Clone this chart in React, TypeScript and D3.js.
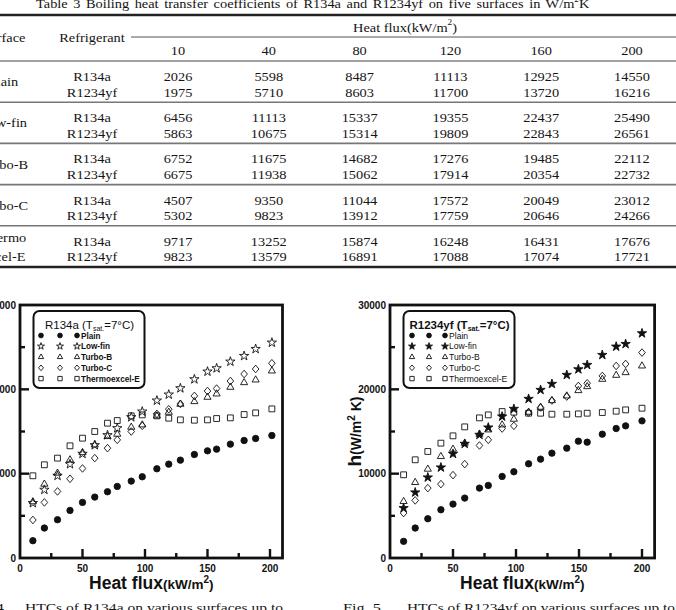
import React from "react";
import * as d3 from "d3";

// ---------- Table 3: boiling heat transfer coefficients (W/m²K) ----------
const tableFlux = [10, 40, 80, 120, 160, 200];
const surfaceNames = ["Plain", "Low-fin", "Turbo-B", "Turbo-C", "Thermoexcel-E"];
const tablePlainR134a = [2026, 5598, 8487, 11113, 12925, 14550];
const tablePlainR1234yf = [1975, 5710, 8603, 11700, 13720, 16216];
const tableLowFinR134a = [6456, 11113, 15337, 19355, 22437, 25490];
const tableLowFinR1234yf = [5863, 10675, 15314, 19809, 22843, 26561];
const tableTurboBR134a = [6752, 11675, 14682, 17276, 19485, 22112];
const tableTurboBR1234yf = [6675, 11938, 15062, 17914, 20354, 22732];
const tableTurboCR134a = [4507, 9350, 11044, 17572, 20049, 23012];
const tableTurboCR1234yf = [5302, 9823, 13912, 17759, 20646, 24266];
const tableThermoR134a = [9717, 13252, 15874, 16248, 16431, 17676];
const tableThermoR1234yf = [9823, 13579, 16891, 17088, 17074, 17721];

// ---------- Fig. 4: R134a ----------
const fluxR134a = [10.3, 19.5, 30, 40, 50, 59.8, 70, 77.8, 89, 97.8, 109.5, 119, 128.3, 139.5, 150, 157.3, 168.3, 179.3, 188.5, 201.5];
const plainR134a = [2052, 3552, 4539, 5644, 6592, 7223, 7855, 8486, 9118, 9631, 10578, 11131, 11604, 12275, 12709, 12907, 13499, 13933, 14170, 14525];
const lowFinR134a = [6513, 8091, 9749, 11131, 12354, 13380, 14564, 15393, 16696, 17367, 18669, 19380, 20130, 21195, 22103, 22498, 23287, 23958, 24787, 25537];
const turboBR134a = [6670, 8762, 10065, 11644, 12500, 13420, 14407, 14683, 15512, 15788, 16854, 17288, 18235, 18551, 19064, 19459, 20248, 20800, 21116, 22182];
const turboCR134a = [4507, 6592, 7894, 9394, 10618, 11841, 13025, 14012, 14999, 15670, 17091, 17643, 18274, 19222, 19802, 20090, 20988, 21818, 22411, 23090];
const thermoR134a = [9749, 11052, 11841, 13301, 14209, 14999, 15986, 16301, 16854, 16972, 16854, 16578, 16380, 16340, 16380, 16538, 16617, 17012, 17209, 17682];

// ---------- Fig. 5: R1234yf ----------
const fluxR1234yf = [10.8, 20, 30, 40.4, 50, 59.3, 71, 78, 89, 98.3, 110, 119.5, 128.5, 140.3, 149.5, 156.5, 168.5, 179.5, 187, 200];
const plainR1234yf = [1974, 3552, 4657, 5723, 6394, 7105, 8289, 8604, 9670, 10223, 11170, 11723, 12433, 13025, 13854, 13736, 14683, 15354, 15670, 16262];
const lowFinR1234yf = [5920, 7776, 9552, 10736, 12354, 13538, 14604, 15472, 16775, 17683, 18867, 19932, 20643, 21709, 22379, 22893, 24077, 25063, 25379, 26642];
const turboBR1234yf = [6710, 8960, 10538, 12038, 12907, 13617, 14683, 15196, 15788, 16459, 17288, 17880, 18669, 19222, 19854, 20327, 21195, 21669, 21985, 22774];
const turboCR1234yf = [5328, 6828, 8289, 8762, 9828, 11131, 13341, 14012, 15354, 15670, 17249, 17841, 18669, 19143, 20406, 20722, 21590, 22774, 23011, 24353];
const thermoR1234yf = [9868, 11644, 12630, 13617, 14485, 15551, 16617, 16972, 17367, 17288, 17170, 17170, 17051, 17051, 17091, 17170, 17249, 17407, 17565, 17762];

const xTicks = [25, 50, 75, 100, 125, 150, 175, 200];
const xTickLabels = [0, 50, 100, 150, 200];
const yTicks = [5000, 10000, 15000, 20000, 25000];
const yTickLabels = [0, 10000, 20000, 30000];

const serif = "'Liberation Serif','Times New Roman',serif";
const sans = "'Liberation Sans',Arial,Helvetica,sans-serif";

type Kind = "circle" | "star" | "triangle" | "diamond" | "square";

function markerPath(kind: Kind, s: number): string {
  switch (kind) {
    case "circle":
      return d3.symbol(d3.symbolCircle, 32 * s * s)() as string;
    case "star":
      return d3.symbol(d3.symbolStar, 27 * s * s)() as string;
    case "triangle":
      return d3.symbol(d3.symbolTriangle, 22 * s * s)() as string;
    case "square":
      return d3.symbol(d3.symbolSquare, 34 * s * s)() as string;
    case "diamond":
    default:
      return `M0,${-3.8 * s}L${3.3 * s},0L0,${3.8 * s}L${-3.3 * s},0Z`;
  }
}

function Marker({ kind, x, y, s, starFill }: { kind: Kind; x: number; y: number; s: number; starFill: boolean }) {
  const filled = kind === "circle" || (kind === "star" && starFill);
  return (
    <path
      d={markerPath(kind, s)}
      transform={`translate(${x},${y})`}
      fill={filled ? "#111" : "none"}
      stroke="#111"
      strokeWidth={0.9}
    />
  );
}

// Table text is set slightly wide, like the printed page
function TT({ x, y, children, anchor = "middle", size = 12.5 }: any) {
  return (
    <text
      transform={`translate(${x},${y}) scale(1.15,1)`}
      textAnchor={anchor}
      fontSize={size}
      fontFamily={serif}
      fill="#151515"
    >
      {children}
    </text>
  );
}

function Table() {
  const colX = d3.scalePoint<number>().domain(tableFlux).range([178, 632]);
  const groupY = d3.scaleLinear().domain([0, 5]).range([61, 267]);
  const rows = [
    [tablePlainR134a, tablePlainR1234yf],
    [tableLowFinR134a, tableLowFinR1234yf],
    [tableTurboBR134a, tableTurboBR1234yf],
    [tableTurboCR134a, tableTurboCR1234yf],
    [tableThermoR134a, tableThermoR1234yf],
  ];
  return (
    <g>
      <text
        transform="translate(36,8) scale(1.15,1)"
        fontSize={12.5}
        fontFamily={serif}
        fill="#151515"
        wordSpacing={1.7}
      >
        Table 3 Boiling heat transfer coefficients of R134a and R1234yf on five surfaces in W/m
        <tspan fontSize={8} dy={-6}>2</tspan>
        <tspan dy={6}>K</tspan>
      </text>
      <line x1={0} x2={676} y1={15} y2={15} stroke="#222" strokeWidth={2.6} />
      <TT x={405} y={32}>
        Heat  flux(kW/m<tspan fontSize={8} dy={-7}>2</tspan>
        <tspan dy={7}>)</tspan>
      </TT>
      <line x1={131} x2={676} y1={37} y2={37} stroke="#555" strokeWidth={1} />
      <TT x={3.5} y={42}>Surface</TT>
      <TT x={92} y={42}>Refrigerant</TT>
      {tableFlux.map((f) => (
        <TT key={f} x={colX(f)} y={54.5}>
          {f}
        </TT>
      ))}
      <line x1={0} x2={676} y1={61} y2={61} stroke="#444" strokeWidth={1.2} />
      {rows.map((pair, i) => {
        const top = groupY(i);
        const bot = groupY(i + 1);
        const mid = (top + bot) / 2;
        return (
          <g key={i}>
            {i < 4 ? (
              <TT x={3.5} y={mid + 4.5}>{surfaceNames[i]}</TT>
            ) : (
              <g>
                <TT x={3.5} y={top + 16.5}>Thermo</TT>
                <TT x={3.5} y={top + 35}>excel-E</TT>
              </g>
            )}
            <TT x={92} y={top + 20}>R134a</TT>
            <TT x={92} y={top + 35.5}>R1234yf</TT>
            {pair[0].map((v, j) => (
              <TT key={"a" + j} x={colX(tableFlux[j])} y={top + 20}>
                {v}
              </TT>
            ))}
            {pair[1].map((v, j) => (
              <TT key={"b" + j} x={colX(tableFlux[j])} y={top + 35.5}>
                {v}
              </TT>
            ))}
            {i < 4 ? (
              <line x1={0} x2={676} y1={bot} y2={bot} stroke="#777" strokeWidth={1.6} />
            ) : (
              <line x1={0} x2={676} y1={bot} y2={bot} stroke="#222" strokeWidth={2.6} />
            )}
          </g>
        );
      })}
    </g>
  );
}

type Series = { name: string; kind: Kind; values: number[] };

function Chart({
  left,
  at200,
  flux,
  series,
  title,
  starFill,
  legendMarkerX,
  legendTextX,
  legendBold,
}: {
  left: number;
  at200: number;
  flux: number[];
  series: Series[];
  title: React.ReactNode;
  starFill: boolean;
  legendMarkerX: number[];
  legendTextX: number;
  legendBold: boolean;
}) {
  const top = 305;
  const bottom = 558;
  const x = d3.scaleLinear().domain([0, 200]).range([left, at200]);
  const y = d3.scaleLinear().domain([0, 30000]).range([bottom, top]);
  const right = x(210);
  const cx = (left + right) / 2;
  const legendRowY = d3.scaleLinear().domain([0, 4]).range([335.5, 378.6]);
  const lx = left + 13.5;

  return (
    <g>
      {/* data markers */}
      {series.map((s) =>
        s.values.map((v, i) => (
          <Marker key={s.name + i} kind={s.kind} x={x(flux[i])} y={y(v)} s={1} starFill={starFill} />
        ))
      )}

      {/* legend */}
      <rect x={lx} y={311} width={111} height={77} rx={6} ry={6} fill="#fff" stroke="#111" strokeWidth={2} />
      <text x={lx + 56} y={328.5} textAnchor="middle" fontFamily={sans} fontSize={11.5} fontWeight={legendBold ? 700 : 400} fill="#111">
        {title}
      </text>
      {series.map((s, i) => (
        <g key={s.name}>
          {legendMarkerX.map((mx, k) => (
            <Marker key={k} kind={s.kind} x={left + mx} y={legendRowY(i)} s={0.75} starFill={starFill} />
          ))}
          <text
            x={left + legendTextX}
            y={legendRowY(i) + 3}
            fontFamily={sans}
            fontSize={legendBold ? 8.6 : 8.2}
            fontWeight={legendBold ? 400 : 700}
            fill="#111"
          >
            {s.name}
          </text>
        </g>
      ))}

      {/* ticks inside the frame */}
      {xTicks.map((t) => (
        <line
          key={"xt" + t}
          x1={x(t)}
          x2={x(t)}
          y1={bottom}
          y2={bottom - (t % 50 === 0 ? 9 : 5)}
          stroke="#111"
          strokeWidth={2.4}
        />
      ))}
      {yTicks.map((t) => (
        <line
          key={"yt" + t}
          x1={left}
          x2={left + (t % 10000 === 0 ? 9 : 5)}
          y1={y(t)}
          y2={y(t)}
          stroke="#111"
          strokeWidth={2.4}
        />
      ))}

      {/* frame */}
      <rect x={left} y={top} width={right - left} height={bottom - top} fill="none" stroke="#111" strokeWidth={2.8} />

      {/* tick labels */}
      {xTickLabels.map((t) => (
        <text key={"xl" + t} x={x(t)} y={572} textAnchor="middle" fontFamily={sans} fontSize={10} fontWeight={700} fill="#111">
          {t}
        </text>
      ))}
      {yTickLabels.map((t) => (
        <text key={"yl" + t} x={left - 4} y={y(t) + 3.5} textAnchor="end" fontFamily={sans} fontSize={10} fontWeight={700} fill="#111">
          {t}
        </text>
      ))}

      {/* axis titles */}
      <text x={cx} y={589} textAnchor="middle" fontFamily={sans} fontWeight={700} fill="#111">
        <tspan fontSize={17.5}>Heat flux</tspan>
        <tspan fontSize={13.5}>(kW/m</tspan>
        <tspan fontSize={10} dy={-6}>2</tspan>
        <tspan fontSize={13.5} dy={6}>)</tspan>
      </text>
      <text
        transform={`translate(${left - 29},${(top + bottom) / 2}) rotate(-90)`}
        textAnchor="middle"
        fontFamily={sans}
        fontWeight={700}
        fill="#111"
      >
        <tspan fontSize={19}>h</tspan>
        <tspan fontSize={14}>(W/m</tspan>
        <tspan fontSize={10} dy={-6}>2</tspan>
        <tspan fontSize={14} dy={6}> K)</tspan>
      </text>
    </g>
  );
}

const seriesR134a: Series[] = [
  { name: "Plain", kind: "circle", values: plainR134a },
  { name: "Low-fin", kind: "star", values: lowFinR134a },
  { name: "Turbo-B", kind: "triangle", values: turboBR134a },
  { name: "Turbo-C", kind: "diamond", values: turboCR134a },
  { name: "Thermoexcel-E", kind: "square", values: thermoR134a },
];

const seriesR1234yf: Series[] = [
  { name: "Plain", kind: "circle", values: plainR1234yf },
  { name: "Low-fin", kind: "star", values: lowFinR1234yf },
  { name: "Turbo-B", kind: "triangle", values: turboBR1234yf },
  { name: "Turbo-C", kind: "diamond", values: turboCR1234yf },
  { name: "Thermoexcel-E", kind: "square", values: thermoR1234yf },
];

function Caption({ x, label, labelWidth, bodyX, body, bodyWidth }: any) {
  return (
    <g fontFamily={serif} fontSize={13} fill="#151515">
      <text x={x} y={612} textLength={labelWidth} lengthAdjust="spacingAndGlyphs">
        {label}
      </text>
      <text x={bodyX} y={612} textLength={bodyWidth} lengthAdjust="spacingAndGlyphs">
        {body}
      </text>
    </g>
  );
}

export default function App() {
  return (
    <svg
      width={676}
      height={610}
      viewBox="0 0 676 610"
      style={{ position: "absolute", left: 0, top: 0, background: "#fff" }}
    >
      <rect x={0} y={0} width={676} height={610} fill="#fff" />
      <Table />
      <Chart
        left={20}
        at200={270}
        flux={fluxR134a}
        series={seriesR134a}
        starFill={false}
        legendMarkerX={[21, 40, 57]}
        legendTextX={61}
        legendBold={false}
        title={
          <>
            R134a (T<tspan fontSize={7} dy={2}>sat.</tspan>
            <tspan dy={-2}>=7°C)</tspan>
          </>
        }
      />
      <Chart
        left={390}
        at200={642}
        flux={fluxR1234yf}
        series={seriesR1234yf}
        starFill={true}
        legendMarkerX={[22, 39, 55]}
        legendTextX={59}
        legendBold={true}
        title={
          <>
            R1234yf (T<tspan fontSize={7} dy={2}>sat.</tspan>
            <tspan dy={-2}>=7°C)</tspan>
          </>
        }
      />
      <Caption x={-34} label="Fig.  4." labelWidth={42} bodyX={25} body="HTCs of R134a on various surfaces up to" bodyWidth={258} />
      <Caption x={343} label="Fig.  5." labelWidth={42} bodyX={407} body="HTCs of R1234yf on various surfaces up to" bodyWidth={268} />
    </svg>
  );
}
